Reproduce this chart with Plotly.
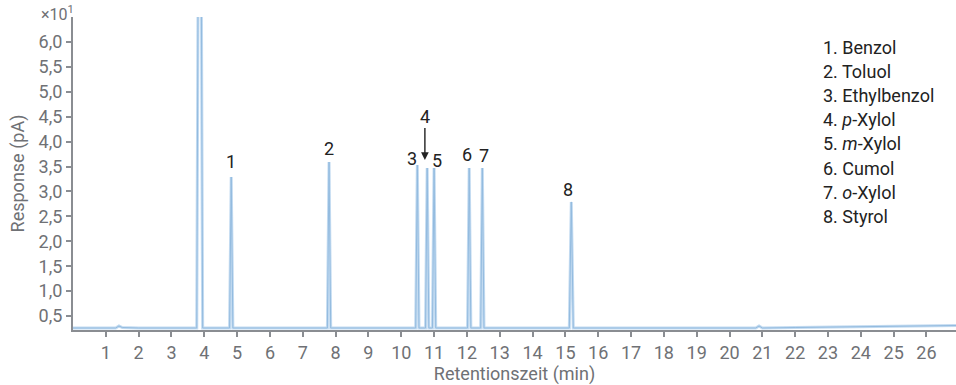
import plotly.graph_objects as go

# Peak data (retention time in min, response in pA x10)
peak_times = [3.86, 4.82, 7.80, 10.49, 10.79, 11.00, 12.07, 12.47, 15.18]
peak_heights = [7.00, 3.29, 3.59, 3.53, 3.47, 3.47, 3.47, 3.47, 2.79]
peak_halfwidth = [0.09, 0.05, 0.05, 0.05, 0.05, 0.05, 0.05, 0.05, 0.06]
peak_topwidth = [0.05, 0.0, 0.0, 0.0, 0.0, 0.0, 0.0, 0.0, 0.0]

# Baseline points
base_x = [0.0, 1.30, 1.40, 1.50, 2.0, 20.80, 20.90, 21.00, 22.0, 24.0, 26.9]
base_y = [0.26, 0.26, 0.30, 0.27, 0.26, 0.26, 0.30, 0.26, 0.27, 0.29, 0.31]

# Peak labels
label_text = ["1", "2", "3", "5", "6", "7", "8"]
label_x = [4.82, 7.80, 10.34, 11.08, 12.01, 12.53, 15.09]
label_y = [3.61, 3.87, 3.67, 3.63, 3.75, 3.73, 3.03]

legend_items = ["1. Benzol", "2. Toluol", "3. Ethylbenzol", "4. <i>p</i>-Xylol",
                "5. <i>m</i>-Xylol", "6. Cumol", "7. <i>o</i>-Xylol", "8. Styrol"]

y_tickvals = [0.5, 1.0, 1.5, 2.0, 2.5, 3.0, 3.5, 4.0, 4.5, 5.0, 5.5, 6.0]
y_ticktext = ["0,5", "1,0", "1,5", "2,0", "2,5", "3,0", "3,5", "4,0", "4,5", "5,0", "5,5", "6,0"]
x_tickvals = list(range(1, 27))

# Build signal: baseline with peaks inserted
pts = list(zip(base_x, base_y))
for t, h, w, tw in zip(peak_times, peak_heights, peak_halfwidth, peak_topwidth):
    if tw > 0:
        pts += [(t - w, 0.26), (t - tw, h), (t + tw, h), (t + w, 0.26)]
    else:
        pts += [(t - w, 0.26), (t, h), (t + w, 0.26)]
pts.sort(key=lambda p: p[0])
sx = [p[0] for p in pts]
sy = [p[1] for p in pts]

fig = go.Figure()
fig.add_trace(go.Scatter(x=sx, y=sy, mode="lines",
                         line=dict(color="rgba(180,210,238,0.8)", width=3),
                         hoverinfo="skip", showlegend=False))
fig.add_trace(go.Scatter(x=sx, y=sy, mode="lines",
                         line=dict(color="#93bbdf", width=1),
                         showlegend=False))

gray = "#6f7175"
dark = "#222222"
font = "Roboto, Arial, sans-serif"

ann = []
for t, x, y in zip(label_text, label_x, label_y):
    ann.append(dict(x=x, y=y, text=t, showarrow=False,
                    font=dict(size=18, color=dark, family=font)))
ann.append(dict(x=10.72, y=3.63, text="4", showarrow=True, ax=0, ay=-44,
                arrowhead=2, arrowsize=1.1, arrowwidth=1.4, arrowcolor=dark,
                font=dict(size=18, color=dark, family=font)))
for i, item in enumerate(legend_items):
    ann.append(dict(x=22.8, y=5.88 - i * 0.482, text=item, showarrow=False,
                    xanchor="left", font=dict(size=18, color=dark, family=font)))
ann.append(dict(x=0, y=1, xref="paper", yref="paper", text="×10<sup>1</sup>",
                showarrow=False, xanchor="right", yanchor="middle", xshift=3, yshift=4,
                font=dict(size=16, color=gray, family=font)))
fig.update_layout(annotations=ann)

axis_col = "#8a8d92"
fig.update_layout(
    width=956, height=385,
    margin=dict(l=73, r=0, t=17, b=55),
    paper_bgcolor="white", plot_bgcolor="white",
    font=dict(family=font, color=gray, size=18),
    xaxis=dict(range=[0, 26.9], tickvals=x_tickvals, ticks="outside", ticklen=5,
               tickcolor=axis_col, tickwidth=1.5, showline=True, linecolor=axis_col,
               linewidth=2, showgrid=False, zeroline=False,
               tickfont=dict(size=18, color=gray),
               title=dict(text="Retentionszeit (min)", font=dict(size=18, color=gray), standoff=4)),
    yaxis=dict(range=[0.22, 6.5], tickvals=y_tickvals, ticktext=y_ticktext,
               ticks="outside", ticklen=5, tickcolor=axis_col, tickwidth=1.5,
               showline=True, linecolor=axis_col, linewidth=2, showgrid=False,
               zeroline=False, tickfont=dict(size=18, color=gray),
               title=dict(text="Response (pA)", font=dict(size=18, color=gray), standoff=9)),
)

fig.write_html("out.html", config={"displayModeBar": False},
               post_script="document.body.style.margin='0';")
